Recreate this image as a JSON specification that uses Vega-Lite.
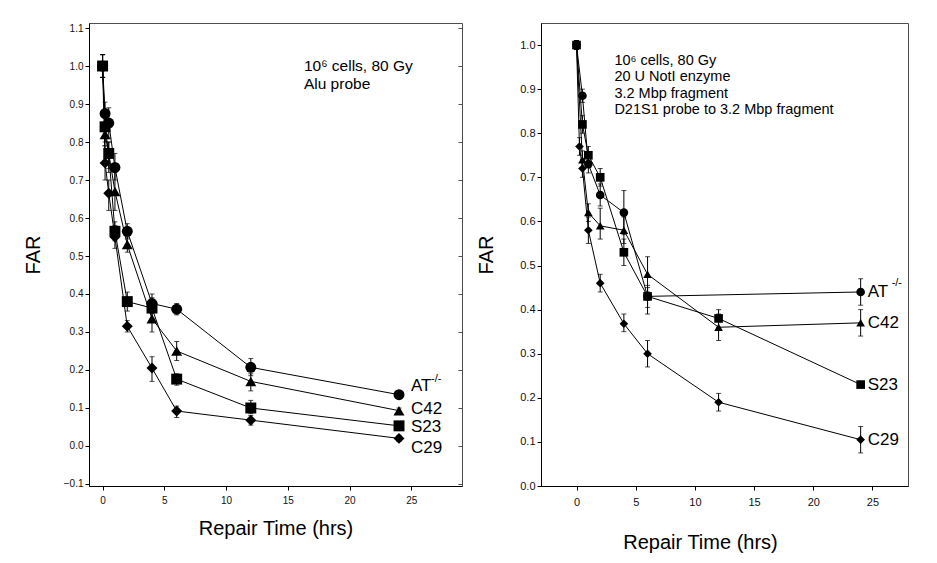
{
  "$schema": "https://vega.github.io/schema/vega-lite/v6.json",
  "padding": {"left": 22, "top": 22, "right": 5, "bottom": 5},
  "spacing": 13,
  "config": {
    "font": "Liberation Sans",
    "view": {"stroke": "#4d4d4d", "strokeWidth": 1},
    "axis": {"grid": false, "domainColor": "#000", "tickColor": "#000", "labelColor": "#111", "titleColor": "#000", "titleFontWeight": "normal", "labelFont": "Liberation Sans", "titleFont": "Liberation Sans"}
  },
  "datasets": {
    "left": [
      {"series": "AT", "t": 0, "far": 1.0, "lo": 0.97, "hi": 1.03},
      {"series": "AT", "t": 0.2, "far": 0.875, "lo": 0.845, "hi": 0.905},
      {"series": "AT", "t": 0.5, "far": 0.85, "lo": 0.81, "hi": 0.89},
      {"series": "AT", "t": 1, "far": 0.733, "lo": 0.7, "hi": 0.77},
      {"series": "AT", "t": 2, "far": 0.565, "lo": 0.545, "hi": 0.585},
      {"series": "AT", "t": 4, "far": 0.375, "lo": 0.35, "hi": 0.4},
      {"series": "AT", "t": 6, "far": 0.36, "lo": 0.345, "hi": 0.375},
      {"series": "AT", "t": 12, "far": 0.207, "lo": 0.185, "hi": 0.23},
      {"series": "AT", "t": 24, "far": 0.135, "lo": 0.125, "hi": 0.145},
      {"series": "C42", "t": 0, "far": 1.0, "lo": 0.97, "hi": 1.03},
      {"series": "C42", "t": 0.2, "far": 0.82, "lo": 0.79, "hi": 0.85},
      {"series": "C42", "t": 0.5, "far": 0.77, "lo": 0.73, "hi": 0.8},
      {"series": "C42", "t": 1, "far": 0.67, "lo": 0.62, "hi": 0.72},
      {"series": "C42", "t": 2, "far": 0.53, "lo": 0.51, "hi": 0.55},
      {"series": "C42", "t": 4, "far": 0.335, "lo": 0.3, "hi": 0.37},
      {"series": "C42", "t": 6, "far": 0.25, "lo": 0.225, "hi": 0.275},
      {"series": "C42", "t": 12, "far": 0.17, "lo": 0.145, "hi": 0.19},
      {"series": "C42", "t": 24, "far": 0.093, "lo": 0.085, "hi": 0.1},
      {"series": "S23", "t": 0, "far": 1.0, "lo": 0.97, "hi": 1.03},
      {"series": "S23", "t": 0.2, "far": 0.84, "lo": 0.8, "hi": 0.88},
      {"series": "S23", "t": 0.5, "far": 0.77, "lo": 0.72, "hi": 0.8},
      {"series": "S23", "t": 1, "far": 0.565, "lo": 0.54, "hi": 0.59},
      {"series": "S23", "t": 2, "far": 0.38, "lo": 0.355, "hi": 0.405},
      {"series": "S23", "t": 4, "far": 0.363, "lo": 0.335, "hi": 0.39},
      {"series": "S23", "t": 6, "far": 0.176, "lo": 0.16, "hi": 0.19},
      {"series": "S23", "t": 12, "far": 0.1, "lo": 0.085, "hi": 0.12},
      {"series": "S23", "t": 24, "far": 0.053, "lo": 0.045, "hi": 0.06},
      {"series": "C29", "t": 0, "far": 1.0, "lo": 0.97, "hi": 1.03},
      {"series": "C29", "t": 0.2, "far": 0.745, "lo": 0.7, "hi": 0.79},
      {"series": "C29", "t": 0.5, "far": 0.665, "lo": 0.62, "hi": 0.7},
      {"series": "C29", "t": 1, "far": 0.55, "lo": 0.52, "hi": 0.58},
      {"series": "C29", "t": 2, "far": 0.315, "lo": 0.3, "hi": 0.33},
      {"series": "C29", "t": 4, "far": 0.205, "lo": 0.17, "hi": 0.235},
      {"series": "C29", "t": 6, "far": 0.092, "lo": 0.075, "hi": 0.105},
      {"series": "C29", "t": 12, "far": 0.068, "lo": 0.055, "hi": 0.08},
      {"series": "C29", "t": 24, "far": 0.02, "lo": 0.012, "hi": 0.028}
    ],
    "right": [
      {"series": "AT", "t": 0, "far": 1.0, "lo": 0.99, "hi": 1.01},
      {"series": "AT", "t": 0.5, "far": 0.885, "lo": 0.87, "hi": 0.9},
      {"series": "AT", "t": 1, "far": 0.73, "lo": 0.71, "hi": 0.75},
      {"series": "AT", "t": 2, "far": 0.66, "lo": 0.635, "hi": 0.685},
      {"series": "AT", "t": 4, "far": 0.62, "lo": 0.57, "hi": 0.67},
      {"series": "AT", "t": 6, "far": 0.43, "lo": 0.405, "hi": 0.455},
      {"series": "AT", "t": 24, "far": 0.44, "lo": 0.41, "hi": 0.47},
      {"series": "C42", "t": 0, "far": 1.0, "lo": 0.99, "hi": 1.01},
      {"series": "C42", "t": 0.5, "far": 0.74, "lo": 0.72, "hi": 0.76},
      {"series": "C42", "t": 1, "far": 0.62, "lo": 0.6, "hi": 0.64},
      {"series": "C42", "t": 2, "far": 0.59, "lo": 0.56, "hi": 0.63},
      {"series": "C42", "t": 4, "far": 0.58, "lo": 0.55, "hi": 0.61},
      {"series": "C42", "t": 6, "far": 0.48, "lo": 0.44, "hi": 0.52},
      {"series": "C42", "t": 12, "far": 0.36, "lo": 0.33, "hi": 0.39},
      {"series": "C42", "t": 24, "far": 0.37, "lo": 0.34, "hi": 0.4},
      {"series": "S23", "t": 0, "far": 1.0, "lo": 0.99, "hi": 1.01},
      {"series": "S23", "t": 0.5, "far": 0.82, "lo": 0.8, "hi": 0.84},
      {"series": "S23", "t": 1, "far": 0.75, "lo": 0.73, "hi": 0.77},
      {"series": "S23", "t": 2, "far": 0.7, "lo": 0.68, "hi": 0.72},
      {"series": "S23", "t": 4, "far": 0.53, "lo": 0.5, "hi": 0.56},
      {"series": "S23", "t": 6, "far": 0.43, "lo": 0.39, "hi": 0.45},
      {"series": "S23", "t": 12, "far": 0.38, "lo": 0.36, "hi": 0.4},
      {"series": "S23", "t": 24, "far": 0.23, "lo": 0.225, "hi": 0.235},
      {"series": "C29", "t": 0, "far": 1.0, "lo": 0.99, "hi": 1.01},
      {"series": "C29", "t": 0.25, "far": 0.77, "lo": 0.75, "hi": 0.79},
      {"series": "C29", "t": 0.5, "far": 0.72, "lo": 0.7, "hi": 0.74},
      {"series": "C29", "t": 1, "far": 0.58, "lo": 0.55, "hi": 0.61},
      {"series": "C29", "t": 2, "far": 0.46, "lo": 0.44, "hi": 0.48},
      {"series": "C29", "t": 4, "far": 0.368, "lo": 0.35, "hi": 0.39},
      {"series": "C29", "t": 6, "far": 0.3, "lo": 0.27, "hi": 0.33},
      {"series": "C29", "t": 12, "far": 0.19, "lo": 0.17, "hi": 0.21},
      {"series": "C29", "t": 24, "far": 0.105, "lo": 0.075, "hi": 0.135}
    ],
    "leftlab": [
      {"label": "AT", "t": 24, "far": 0.158},
      {"label": "C42", "t": 24, "far": 0.098},
      {"label": "S23", "t": 24, "far": 0.049},
      {"label": "C29", "t": 24, "far": -0.005}
    ],
    "rightlab": [
      {"label": "AT", "t": 24, "far": 0.44},
      {"label": "C42", "t": 24, "far": 0.37},
      {"label": "S23", "t": 24, "far": 0.23},
      {"label": "C29", "t": 24, "far": 0.105}
    ],
    "leftsup": [{"label": "-/-", "t": 24, "far": 0.158}],
    "rightsup": [{"label": "-/-", "t": 24, "far": 0.44}],
    "leftnote": [{"t": 16.3, "far": 0.986, "note": ["10⁶ cells, 80 Gy", "Alu probe"]}],
    "rightnote": [{"t": 3.2, "far": 0.955, "note": ["10⁶ cells, 80 Gy", "20 U NotI enzyme", "3.2 Mbp fragment", "D21S1 probe to 3.2 Mbp fragment"]}]
  },
  "hconcat": [
    {
      "width": 373,
      "height": 463,
      "resolve": {"axis": {"y": "independent"}},
      "layer": [
        {
          "encoding": {
            "x": {"field": "t", "type": "quantitative", "title": "Repair Time (hrs)",
                  "scale": {"domain": [-1.1, 29.1], "nice": false, "zero": false},
                  "axis": {"values": [0, 5, 10, 15, 20, 25], "tickSize": 4, "labelPadding": 5, "labelFontSize": 10, "titleFontSize": 20, "titlePadding": 13}},
            "y": {"field": "far", "type": "quantitative", "title": "FAR",
                  "scale": {"domain": [-0.1053, 1.1132], "nice": false, "zero": false},
                  "axis": {"values": [-0.1, 0, 0.1, 0.2, 0.3, 0.4, 0.5, 0.6, 0.7, 0.8, 0.9, 1.0, 1.1], "format": ".1f", "tickSize": 4, "labelPadding": 2, "labelFontSize": 10, "titleFontSize": 20, "titlePadding": 20}}
          },
          "layer": [
            {"data": {"name": "left"}, "mark": {"type": "line", "color": "black", "strokeWidth": 1},
             "encoding": {"detail": {"field": "series"}}},
            {"data": {"name": "left"}, "mark": {"type": "errorbar", "ticks": true, "color": "black", "thickness": 1},
             "encoding": {"y": {"field": "lo", "type": "quantitative", "title": "FAR"}, "y2": {"field": "hi"}}},
            {"data": {"name": "left"}, "mark": {"type": "point", "filled": true, "color": "black", "opacity": 1, "size": 120},
             "encoding": {"shape": {"field": "series", "type": "nominal", "legend": null,
                          "scale": {"domain": ["AT", "C42", "S23", "C29"], "range": ["circle", "triangle-up", "square", "diamond"]}}}},
            {"data": {"name": "leftlab"}, "mark": {"type": "text", "align": "left", "baseline": "middle", "dx": 12, "fontSize": 17, "color": "black"},
             "encoding": {"text": {"field": "label"}}},
            {"data": {"name": "leftsup"}, "mark": {"type": "text", "align": "left", "baseline": "middle", "dx": 32, "dy": -7, "fontSize": 11, "color": "black"},
             "encoding": {"text": {"field": "label"}}},
            {"data": {"name": "leftnote"}, "mark": {"type": "text", "align": "left", "baseline": "alphabetic", "fontSize": 15.5, "lineHeight": 18, "color": "black"},
             "encoding": {"text": {"field": "note"}}}
          ]
        },
        {
          "data": {"name": "left"},
          "mark": {"type": "point", "opacity": 0},
          "encoding": {
            "x": {"field": "t", "type": "quantitative", "title": "Repair Time (hrs)"},
            "y": {"field": "far", "type": "quantitative", "title": null,
                  "axis": {"orient": "right", "values": [-0.1, 0, 0.1, 0.2, 0.3, 0.4, 0.5, 0.6, 0.7, 0.8, 0.9, 1.0, 1.1], "labels": false, "domain": false, "tickSize": -4, "tickColor": "#555"}}
          }
        }
      ]
    },
    {
      "width": 367,
      "height": 463,
      "encoding": {
        "x": {"field": "t", "type": "quantitative", "title": "Repair Time (hrs)",
              "scale": {"domain": [-3, 28], "nice": false, "zero": false},
              "axis": {"values": [0, 5, 10, 15, 20, 25], "tickSize": 4, "labelPadding": 6, "labelFontSize": 11, "titleFontSize": 20, "titlePadding": 25, "titleX": 159}},
        "y": {"field": "far", "type": "quantitative", "title": "FAR",
              "scale": {"domain": [0, 1.05], "nice": false, "zero": false},
              "axis": {"values": [0, 0.1, 0.2, 0.3, 0.4, 0.5, 0.6, 0.7, 0.8, 0.9, 1.0], "format": ".1f", "tickSize": 4, "labelPadding": 2, "labelFontSize": 11, "titleFontSize": 20, "titlePadding": 23}}
      },
      "layer": [
        {"data": {"name": "right"}, "mark": {"type": "line", "color": "black", "strokeWidth": 1},
         "encoding": {"detail": {"field": "series"}}},
        {"data": {"name": "right"}, "mark": {"type": "errorbar", "ticks": true, "color": "black", "thickness": 1},
         "encoding": {"y": {"field": "lo", "type": "quantitative", "title": "FAR"}, "y2": {"field": "hi"}}},
        {"data": {"name": "right"}, "mark": {"type": "point", "filled": true, "color": "black", "opacity": 1, "size": 75},
         "encoding": {"shape": {"field": "series", "type": "nominal", "legend": null,
                      "scale": {"domain": ["AT", "C42", "S23", "C29"], "range": ["circle", "triangle-up", "square", "diamond"]}}}},
        {"data": {"name": "rightlab"}, "mark": {"type": "text", "align": "left", "baseline": "middle", "dx": 7, "fontSize": 17, "color": "black"},
         "encoding": {"text": {"field": "label"}}},
        {"data": {"name": "rightsup"}, "mark": {"type": "text", "align": "left", "baseline": "middle", "dx": 31, "dy": -9, "fontSize": 11, "color": "black"},
         "encoding": {"text": {"field": "label"}}},
        {"data": {"name": "rightnote"}, "mark": {"type": "text", "align": "left", "baseline": "alphabetic", "fontSize": 14.5, "lineHeight": 16.5, "color": "black"},
         "encoding": {"text": {"field": "note"}}}
      ]
    }
  ]
}
